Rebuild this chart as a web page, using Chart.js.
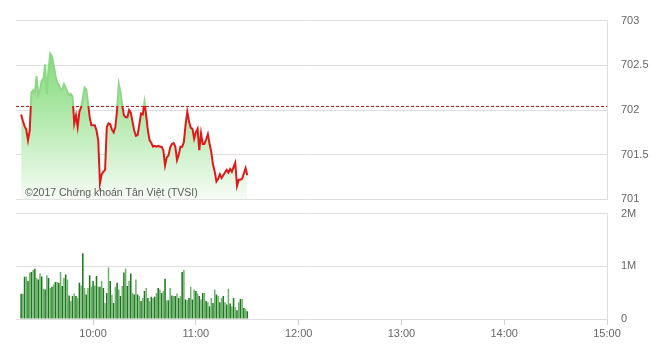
<!DOCTYPE html>
<html>
<head>
<meta charset="utf-8">
<script src="https://cdn.jsdelivr.net/npm/chart.js@4"></script>
<style>
    body { margin: 0; background: #fff; }
    #wrap { position: relative; width: 660px; height: 353px; overflow: hidden; }
    canvas { position: absolute; left: 0; }
</style>
</head>
<body>
<div id="wrap">
    <canvas id="canvas-widget-price" width="660" height="220" style="top:0"></canvas>
    <canvas id="canvas-widget-volume" width="660" height="160" style="top:193px"></canvas>
</div>
<script>
// session range, minutes after midnight (09:15 -> 15:00)
const SESSION_START = 555;
const SESSION_END = 900;
const FIRST_MINUTE = 558; // first trade at 09:18

const tickValues = [600, 660, 720, 780, 840, 900];
const tickLabels = ['10:00', '11:00', '12:00', '13:00', '14:00', '15:00'];

// yesterday close, drawn as the dashed red line
const referencePrice = 702.04;

// index value, one per minute from 09:18
const prices = [
    701.95, 701.88, 701.82, 701.78, 701.66, 701.77, 702.20, 702.22, 702.19, 702.38,
    702.17, 702.22, 702.33, 702.35, 702.51, 702.18, 702.46, 702.63, 702.60, 702.50,
    702.39, 702.31, 702.28, 702.23, 702.23, 702.29, 702.25, 702.20, 702.17, 702.18,
    702.15, 701.85, 701.94, 701.81, 701.98, 702.03, 702.13, 702.25, 702.23, 702.09,
    701.92, 701.83, 701.83, 701.83, 701.77, 701.66, 701.18, 701.28, 701.31, 701.33,
    701.81, 701.85, 701.84, 701.78, 701.75, 701.81, 702.00, 702.29, 702.20, 702.05,
    701.94, 701.92, 701.92, 702.00, 701.97, 701.87, 701.77, 701.71, 701.72, 701.84,
    701.96, 701.95, 702.09, 701.94, 701.77, 701.66, 701.63, 701.59, 701.60, 701.59,
    701.60, 701.59, 701.59, 701.55, 701.38, 701.47, 701.49, 701.58, 701.62, 701.63,
    701.59, 701.44, 701.50, 701.59, 701.59, 701.64, 701.84, 701.98, 701.87, 701.80,
    701.79, 701.68, 701.75, 701.79, 701.55, 701.74, 701.62, 701.62, 701.67, 701.73,
    701.62, 701.53, 701.39, 701.31, 701.20, 701.23, 701.28, 701.24, 701.27, 701.30,
    701.33, 701.30, 701.34, 701.31, 701.36, 701.41, 701.15, 701.22, 701.22, 701.23,
    701.29, 701.35, 701.27
];

// matched volume per minute, shares
const volumes = [
    480000, 480000, 800000, 800000, 720000, 880000, 890000, 930000, 955000, 780000,
    750000, 865000, 805000, 575000, 560000, 830000, 780000, 590000, 610000, 655000,
    700000, 700000, 690000, 890000, 625000, 780000, 845000, 750000, 445000, 340000,
    435000, 485000, 435000, 400000, 690000, 635000, 1250000, 590000, 465000, 590000,
    830000, 610000, 720000, 635000, 815000, 610000, 610000, 720000, 590000, 305000,
    495000, 975000, 720000, 465000, 305000, 610000, 690000, 560000, 435000, 625000,
    880000, 960000, 625000, 720000, 865000, 495000, 465000, 750000, 465000, 435000,
    340000, 400000, 530000, 590000, 400000, 340000, 420000, 400000, 420000, 495000,
    590000, 560000, 495000, 530000, 765000, 355000, 355000, 590000, 445000, 435000,
    435000, 485000, 400000, 435000, 890000, 930000, 370000, 355000, 400000, 610000,
    370000, 560000, 530000, 485000, 435000, 370000, 495000, 495000, 340000, 320000,
    240000, 400000, 305000, 560000, 465000, 435000, 320000, 400000, 435000, 320000,
    275000, 575000, 295000, 240000, 400000, 230000, 165000, 320000, 380000, 380000,
    210000, 190000, 145000
];

const GRID_COLOR = '#dedede';
const TEXT_COLOR = '#666';
const LINE_RED = '#e01818';
const LINE_GREEN = '#8cd886';
const FAMILY = '"Liberation Sans", Arial, sans-serif';
const FONT = {family: FAMILY, size: 11};

const minutes = prices.map((_, i) => FIRST_MINUTE + i);

// y position of the reference price as a fraction of the chart area
function refFraction(chart) {
    const {chartArea, scales} = chart;
    const y = scales.y.getPixelForValue(referencePrice);
    return Math.min(1, Math.max(0, (y - chartArea.top) / (chartArea.bottom - chartArea.top)));
}

function lineColor(ctx) {
    const chart = ctx.chart;
    if (!chart.chartArea) return LINE_RED;
    const {top, bottom} = chart.chartArea;
    const f = refFraction(chart);
    const g = chart.ctx.createLinearGradient(0, top, 0, bottom);
    g.addColorStop(0, LINE_GREEN);
    g.addColorStop(f, LINE_GREEN);
    g.addColorStop(f, LINE_RED);
    g.addColorStop(1, LINE_RED);
    return g;
}

function fillColor(ctx) {
    const chart = ctx.chart;
    if (!chart.chartArea) return 'rgba(140,220,130,0.5)';
    const {top, bottom} = chart.chartArea;
    const g = chart.ctx.createLinearGradient(0, top, 0, bottom);
    g.addColorStop(0, 'rgb(110,208,100)');
    g.addColorStop(0.45, 'rgb(165,229,158)');
    g.addColorStop(1, 'rgb(246,252,245)');
    return g;
}

// copyright line written over the area
const watermark = {
    id: 'watermark',
    afterDatasetsDraw(chart) {
        const c = chart.ctx;
        c.save();
        c.font = '10.5px ' + FAMILY;
        c.fillStyle = '#5a5a5a';
        c.textBaseline = 'alphabetic';
        c.fillText('©2017 Chứng khoán Tân Việt (TVSI)', 25, 196);
        c.restore();
    }
};

const xScale = (showLabels) => ({
    type: 'linear',
    min: SESSION_START,
    max: SESSION_END,
    offset: false,
    display: showLabels,
    afterBuildTicks: axis => { axis.ticks = tickValues.map(v => ({value: v})); },
    afterFit: axis => { if (showLabels) axis.height = 34; },
    grid: {drawOnChartArea: false, drawTicks: true, tickLength: 6, tickColor: '#cfcfcf', offset: false},
    border: {display: false},
    ticks: {
        autoSkip: false, maxRotation: 0, padding: 2, color: TEXT_COLOR, font: FONT,
        callback: v => tickLabels[tickValues.indexOf(v)] || ''
    }
});

const yScale = (min, max, step, fmt) => ({
    position: 'right',
    min: min,
    max: max,
    afterFit: axis => { axis.width = 53; },
    grid: {color: GRID_COLOR, drawTicks: false},
    border: {display: true, color: GRID_COLOR},
    ticks: {stepSize: step, padding: 14, color: TEXT_COLOR, font: FONT, callback: fmt}
});

new Chart(document.getElementById('canvas-widget-price'), {
    type: 'line',
    data: {
        datasets: [
            {
                data: minutes.map((m, i) => ({x: m, y: prices[i]})),
                borderColor: lineColor,
                backgroundColor: fillColor,
                borderWidth: 2,
                fill: 'start',
                pointRadius: 0,
                tension: 0
            },
            {
                data: [{x: SESSION_START, y: referencePrice}, {x: SESSION_END, y: referencePrice}],
                borderColor: '#a01818',
                borderWidth: 1,
                borderDash: [3, 2],
                fill: false,
                pointRadius: 0
            }
        ]
    },
    options: {
        responsive: false,
        animation: false,
        layout: {autoPadding: false, padding: {left: 16, top: 20, right: 0, bottom: 0}},
        plugins: {legend: {display: false}, tooltip: {enabled: false}},
        scales: {
            x: xScale(false),
            y: yScale(701, 703, 0.5, v => String(v))
        }
    },
    plugins: [watermark]
});

new Chart(document.getElementById('canvas-widget-volume'), {
    type: 'bar',
    data: {
        datasets: [{
            data: minutes.map((m, i) => ({x: m, y: volumes[i]})),
            backgroundColor: ctx => ctx.dataIndex % 2 ? '#6fb36f' : '#1c781c',
            barPercentage: 0.9,
            categoryPercentage: 1
        }]
    },
    options: {
        responsive: false,
        animation: false,
        layout: {autoPadding: false, padding: {left: 16, top: 9, right: 0, bottom: 0}},
        plugins: {legend: {display: false}, tooltip: {enabled: false}},
        scales: {
            x: xScale(true),
            y: yScale(0, 2000000, 1000000, v => v === 0 ? '0' : (v / 1000000) + 'M')
        }
    }
});
</script>
</body>
</html>
